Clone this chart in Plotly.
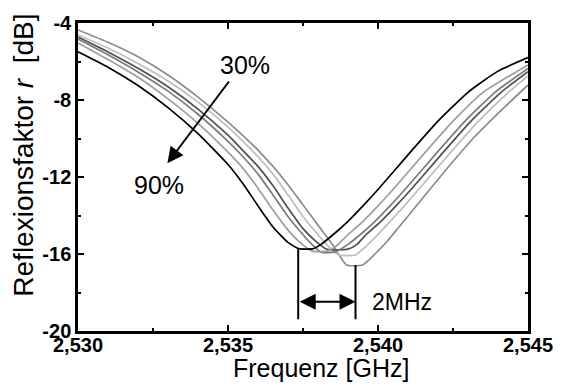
import plotly.graph_objects as go

# ---- data (frequency in GHz, reflection factor in dB) ----
f_black = [2.5300, 2.5310, 2.5320, 2.5330, 2.5340, 2.5350, 2.5355, 2.5360, 2.5365, 2.5370, 2.53735, 2.53785, 2.5381, 2.5385, 2.5390, 2.5395, 2.5400, 2.5410, 2.5420, 2.5430, 2.5440, 2.5450]
r_black = [-5.5, -6.3, -7.25, -8.4, -9.75, -11.35, -12.35, -13.5, -14.6, -15.4, -15.72, -15.72, -15.5, -15.0, -14.3, -13.5, -12.65, -10.85, -9.1, -7.6, -6.5, -5.8]

f_c5 = [2.5300, 2.5310, 2.5320, 2.5330, 2.5340, 2.5350, 2.5355, 2.5360, 2.5365, 2.5370, 2.5374, 2.5378, 2.5383, 2.5386, 2.5390, 2.5395, 2.5400, 2.5405, 2.5415, 2.5425, 2.5435, 2.5450]
r_c5 = [-5.04, -5.9, -6.82, -7.94, -9.21, -10.71, -11.55, -12.58, -13.72, -14.76, -15.4, -15.85, -15.85, -15.6, -15.0, -14.3, -13.5, -12.65, -10.85, -9.1, -7.6, -6.18]

f_c4 = [2.5300, 2.5310, 2.5320, 2.5330, 2.5340, 2.5350, 2.5355, 2.5360, 2.5365, 2.5370, 2.5375, 2.5378, 2.5381, 2.53855, 2.5390, 2.5394, 2.5399, 2.5404, 2.5409, 2.5419, 2.5429, 2.5439, 2.5450]
r_c4 = [-4.83, -5.65, -6.54, -7.54, -8.74, -10.15, -10.95, -11.85, -12.93, -14.05, -15.0, -15.5, -15.9, -15.9, -15.5, -15.0, -14.3, -13.5, -12.65, -10.85, -9.1, -7.6, -6.36]

f_c3 = [2.5300, 2.5310, 2.5320, 2.5330, 2.5340, 2.5350, 2.5355, 2.5360, 2.5365, 2.5370, 2.5375, 2.5379, 2.5383, 2.5390, 2.5393, 2.5396, 2.5401, 2.5406, 2.5411, 2.5421, 2.5431, 2.5441, 2.5450]
r_c3 = [-4.73, -5.5, -6.35, -7.31, -8.47, -9.83, -10.63, -11.45, -12.46, -13.61, -14.68, -15.3, -15.75, -15.75, -15.5, -15.0, -14.3, -13.5, -12.65, -10.85, -9.1, -7.6, -6.53]

f_c2 = [2.5300, 2.5310, 2.5320, 2.5330, 2.5340, 2.5350, 2.5355, 2.5360, 2.5365, 2.5370, 2.5375, 2.5380, 2.5384, 2.5387, 2.53925, 2.5396, 2.5399, 2.54035, 2.54085, 2.54135, 2.54235, 2.54335, 2.54435, 2.5450]
r_c2 = [-4.62, -5.3, -6.1, -7.01, -8.11, -9.41, -10.15, -10.95, -11.85, -12.93, -14.05, -15.0, -15.7, -16.05, -16.05, -15.6, -15.15, -14.4, -13.55, -12.65, -10.85, -9.1, -7.6, -6.75]

f_c1 = [2.5300, 2.5310, 2.5320, 2.5330, 2.5340, 2.5350, 2.5355, 2.5360, 2.5365, 2.5370, 2.5375, 2.5380, 2.5385, 2.53895, 2.53949, 2.5399, 2.5403, 2.5407, 2.5412, 2.5422, 2.5432, 2.5442, 2.5450]
r_c1 = [-4.36, -5.0, -5.75, -6.7, -7.85, -9.15, -9.85, -10.6, -11.45, -12.4, -13.45, -14.5, -15.55, -16.57, -16.57, -16.0, -15.35, -14.6, -13.65, -11.75, -9.95, -8.4, -7.22]

x_tickvals = [2.530, 2.535, 2.540, 2.545]
x_ticktext = ["2,530", "2,535", "2,540", "2,545"]
x_minor = [2.5325, 2.5375, 2.5425]
y_tickvals = [-4, -8, -12, -16, -20]
y_ticktext = ["-4", "-8", "-12", "-16", "-20"]
y_minor = [-6, -10, -14, -18]

# annotation anchors
f_mark_left, f_mark_right = 2.53734, 2.53925
r_mark_left_top, r_mark_right_top, r_mark_bottom = -15.75, -16.57, -19.39
r_span_arrow = -18.48
arrow_tail = (2.53507, -6.96)
arrow_head = (2.53298, -11.29)
lbl_30 = (2.53556, -6.18)
lbl_90 = (2.53271, -12.42)
lbl_2mhz = (2.53973, -18.48)

FONT = "Liberation Sans, Arial, sans-serif"

series = [
    (f_c1, r_c1, "#8c8c8c"),
    (f_c2, r_c2, "#bdbdbd"),
    (f_c3, r_c3, "#4f4f4f"),
    (f_c4, r_c4, "#7b7b7b"),
    (f_c5, r_c5, "#9e9e9e"),
    (f_black, r_black, "#000000"),
]

fig = go.Figure()
for fx, ry, col in series:
    fig.add_trace(go.Scatter(x=fx, y=ry, mode="lines",
                             line=dict(color=col, width=1.7, shape="spline", smoothing=0.5),
                             showlegend=False, hoverinfo="skip"))

axis_common = dict(showgrid=False, zeroline=False, showline=True, linecolor="black", linewidth=2.5,
                   mirror="ticks", ticks="inside", ticklen=6, tickwidth=2, tickcolor="black",
                   tickfont=dict(family=FONT, size=20, color="black", weight="bold"))

fig.update_layout(
    width=566, height=386,
    margin=dict(l=78, r=38, t=23, b=55),
    plot_bgcolor="white", paper_bgcolor="white",
    xaxis=dict(range=[2.530, 2.545], tickmode="array", tickvals=x_tickvals, ticktext=x_ticktext,
               ticklabelstandoff=-6,
               minor=dict(tickmode="array", tickvals=x_minor, ticks="inside", ticklen=3, tickwidth=1.5, tickcolor="black"),
               **axis_common),
    yaxis=dict(range=[-20, -4], tickmode="array", tickvals=y_tickvals, ticktext=y_ticktext,
               minor=dict(tickmode="array", tickvals=y_minor, ticks="inside", ticklen=3, tickwidth=1.5, tickcolor="black"),
               **axis_common),
)

# vertical marker lines
fig.add_shape(type="line", x0=f_mark_left, x1=f_mark_left, y0=r_mark_left_top, y1=r_mark_bottom,
              line=dict(color="black", width=2))
fig.add_shape(type="line", x0=f_mark_right, x1=f_mark_right, y0=r_mark_right_top, y1=r_mark_bottom,
              line=dict(color="black", width=2))

# double arrow
fig.add_annotation(x=f_mark_right, y=r_span_arrow, ax=f_mark_left, ay=r_span_arrow, axref="x", ayref="y",
                   xref="x", yref="y", text="", showarrow=True, arrowside="end+start",
                   arrowhead=2, arrowsize=1.6, arrowwidth=2, arrowcolor="black", standoff=0, startstandoff=0)
# diagonal arrow
fig.add_annotation(x=arrow_head[0], y=arrow_head[1], ax=arrow_tail[0], ay=arrow_tail[1], axref="x", ayref="y",
                   xref="x", yref="y", text="", showarrow=True, arrowhead=2, arrowsize=1.6, arrowwidth=2,
                   arrowcolor="black", standoff=0)

fig.add_annotation(x=lbl_30[0], y=lbl_30[1], text="30%", showarrow=False, xref="x", yref="y",
                   xanchor="center", yanchor="middle", font=dict(family=FONT, size=25, color="black"))
fig.add_annotation(x=lbl_90[0], y=lbl_90[1], text="90%", showarrow=False, xref="x", yref="y",
                   xanchor="center", yanchor="middle", font=dict(family=FONT, size=25, color="black"))
fig.add_annotation(x=lbl_2mhz[0], y=lbl_2mhz[1], text="2MHz", showarrow=False, xref="x", yref="y",
                   xanchor="left", yanchor="middle", font=dict(family=FONT, size=23, color="black"))

# axis titles
fig.add_annotation(x=0.54, y=-0.172, xref="paper", yref="paper", text="Frequenz [GHz]", showarrow=False,
                   xanchor="center", yanchor="bottom", font=dict(family=FONT, size=25, color="black"))
fig.add_annotation(x=-0.121, y=0.571, xref="paper", yref="paper", text="Reflexionsfaktor <i>r</i>&nbsp; [dB]",
                   showarrow=False, textangle=-90, xanchor="center", yanchor="middle",
                   font=dict(family=FONT, size=28, color="black"))

fig.write_html("out.html")
